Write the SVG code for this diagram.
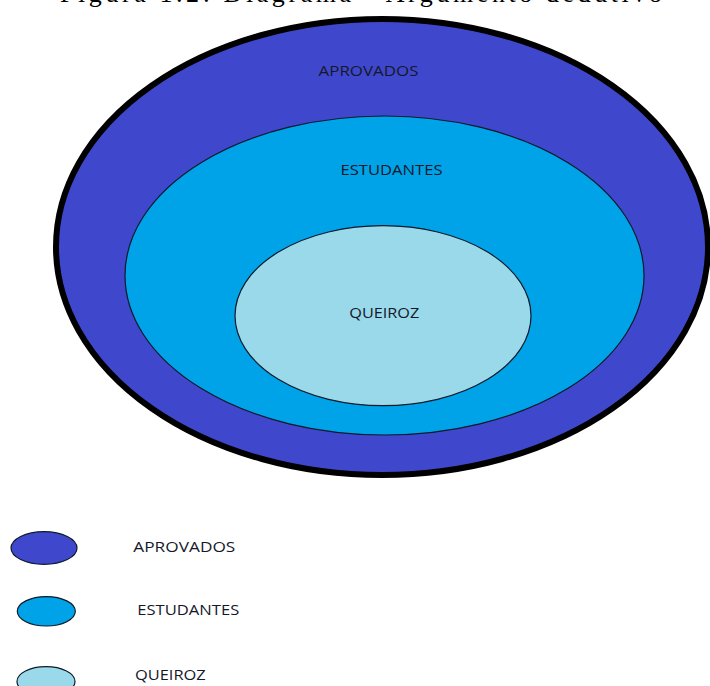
<svg xmlns="http://www.w3.org/2000/svg" width="710" height="686" viewBox="0 0 710 686">
  <style>
    .lbl { font-family: "Open Sans", "Liberation Sans", sans-serif; font-size: 15px; fill: #14182a; }
    .cap { font-family: "Liberation Serif", "DejaVu Serif", serif; font-size: 26px; fill: #000; }
    .aprov { fill: #3f48cc; }
    .estud { fill: #00a2e8; }
    .queir { fill: #99d9ea; }
    .thin { stroke: #0d1a2a; stroke-width: 1.2; }
  </style>
  <rect width="710" height="686" fill="#ffffff"/>

  <!-- caption, cut off by the top edge -->
  <text class="cap" x="60" y="2" textLength="602" lengthAdjust="spacing">Figura 1.2: Diagrama - Argumento dedutivo</text>

  <!-- nested sets -->
  <g id="aprovados">
    <ellipse class="aprov" cx="382" cy="247" rx="326" ry="228" stroke="#000" stroke-width="6"/>
    <text class="lbl" x="318.5" y="75.5" textLength="100" lengthAdjust="spacingAndGlyphs">APROVADOS</text>
  </g>
  <g id="estudantes">
    <ellipse class="estud thin" cx="384.5" cy="275.5" rx="259.5" ry="159.5"/>
    <text class="lbl" x="340.5" y="175" textLength="102" lengthAdjust="spacingAndGlyphs">ESTUDANTES</text>
  </g>
  <g id="queiroz">
    <ellipse class="queir thin" cx="383" cy="315.7" rx="148" ry="90"/>
    <text class="lbl" x="349.3" y="318" textLength="70" lengthAdjust="spacingAndGlyphs">QUEIROZ</text>
  </g>

  <!-- legend -->
  <g id="legend-aprovados">
    <ellipse class="aprov thin" cx="44" cy="548" rx="33" ry="16.3"/>
    <text class="lbl" x="133.3" y="551.5" textLength="102" lengthAdjust="spacingAndGlyphs">APROVADOS</text>
  </g>
  <g id="legend-estudantes">
    <ellipse class="estud thin" cx="46.3" cy="611.3" rx="29" ry="14.7"/>
    <text class="lbl" x="137.3" y="615" textLength="102" lengthAdjust="spacingAndGlyphs">ESTUDANTES</text>
  </g>
  <g id="legend-queiroz">
    <ellipse class="queir thin" cx="46" cy="681.4" rx="29" ry="14.7"/>
    <text class="lbl" x="135" y="680" textLength="70.7" lengthAdjust="spacingAndGlyphs">QUEIROZ</text>
  </g>
</svg>
